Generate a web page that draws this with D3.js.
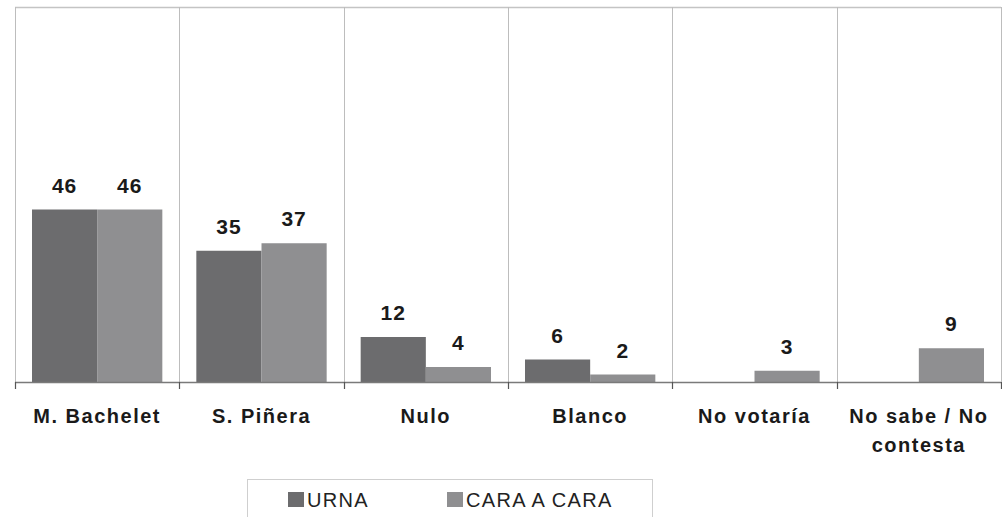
<!DOCTYPE html>
<html>
<head>
<meta charset="utf-8">
<script src="https://cdn.jsdelivr.net/npm/d3@7"></script>
<style>
  html, body { margin: 0; padding: 0; background: #fff; }
  svg { display: block; }
  text { font-family: "Liberation Sans", Arial, sans-serif; }
</style>
</head>
<body>
<svg id="chart" width="1002" height="517"></svg>
<script>
// Vote intention by method of survey
const categories = ["M. Bachelet", "S. Piñera", "Nulo", "Blanco", "No votaría", "No sabe / No contesta"];
const seriesNames = ["URNA", "CARA A CARA"];
const urna = [46, 35, 12, 6, null, null];
const caraACara = [46, 37, 4, 2, 3, 9];
const seriesColors = ["#6c6c6e", "#8f8f91"];

const seriesValues = [urna, caraACara];

const svg = d3.select("#chart");
const plot = { left: 15, right: 1001, top: 7, bottom: 382 };

const x = d3.scaleBand().domain(categories).range([plot.left, plot.right]).paddingInner(0).paddingOuter(0);
const xs = d3.scaleBand().domain(seriesNames).range([17, x.bandwidth() - 17]).padding(0);
const y = d3.scaleLinear().domain([0, 100]).range([plot.bottom, plot.top]);

// frame: top edge and category separators
const g = svg.append("g");
g.append("line").attr("x1", plot.left).attr("x2", plot.right)
  .attr("y1", y(100) + 0.5).attr("y2", y(100) + 0.5)
  .attr("stroke", "#c4c4c4").attr("stroke-width", 1.5);
const bounds = categories.map(c => x(c)).concat([plot.right]);
g.selectAll("line.sep").data(bounds).join("line")
  .attr("class", "sep")
  .attr("x1", d => Math.round(d) + 0.5).attr("x2", d => Math.round(d) + 0.5)
  .attr("y1", y(100)).attr("y2", y(0))
  .attr("stroke", "#bdbdbd").attr("stroke-width", 1);

// bars
const rows = [];
categories.forEach((c, i) => {
  seriesNames.forEach((s, j) => {
    const v = seriesValues[j][i];
    if (v != null) rows.push({ c, s, v, color: seriesColors[j] });
  });
});

g.selectAll("rect.bar").data(rows).join("rect")
  .attr("class", "bar")
  .attr("x", d => x(d.c) + xs(d.s))
  .attr("width", xs.bandwidth())
  .attr("y", d => y(d.v))
  .attr("height", d => y(0) - y(d.v))
  .attr("fill", d => d.color);

// value labels
g.selectAll("text.val").data(rows).join("text")
  .attr("class", "val")
  .attr("x", d => x(d.c) + xs(d.s) + xs.bandwidth() / 2)
  .attr("y", d => y(d.v) - 17)
  .attr("text-anchor", "middle")
  .attr("font-size", 21).attr("font-weight", "bold")
  .attr("letter-spacing", 1)
  .attr("fill", "#1a1a1a")
  .text(d => d.v);

// x axis: baseline with ticks at category boundaries
g.append("line").attr("x1", plot.left).attr("x2", plot.right)
  .attr("y1", y(0) + 0.5).attr("y2", y(0) + 0.5)
  .attr("stroke", "#7a7a7a").attr("stroke-width", 1.5);
g.selectAll("line.tick").data(bounds).join("line")
  .attr("class", "tick")
  .attr("x1", d => Math.round(d) + 0.5).attr("x2", d => Math.round(d) + 0.5)
  .attr("y1", y(0)).attr("y2", y(0) + 7)
  .attr("stroke", "#555").attr("stroke-width", 1.2);

// category labels, wrapped to the band width
const labels = g.selectAll("text.cat").data(categories).join("text")
  .attr("class", "cat")
  .attr("x", d => x(d) + x.bandwidth() / 2)
  .attr("y", 423)
  .attr("text-anchor", "middle")
  .attr("font-size", 20).attr("font-weight", "bold")
  .attr("letter-spacing", 1.5)
  .attr("fill", "#1a1a1a");

labels.each(function (d) {
  const t = d3.select(this);
  const words = d.split(" ");
  const cx = x(d) + x.bandwidth() / 2;
  let line = [];
  let tspan = t.append("tspan").attr("x", cx).attr("dy", 0);
  words.forEach(w => {
    line.push(w);
    tspan.text(line.join(" "));
    if (tspan.node().getComputedTextLength() > x.bandwidth() - 10 && line.length > 1) {
      line.pop();
      tspan.text(line.join(" "));
      line = [w];
      tspan = t.append("tspan").attr("x", cx).attr("dy", 29).text(w);
    }
  });
});

// legend
const legend = svg.append("g");
legend.append("rect").attr("x", 247.5).attr("y", 479.5).attr("width", 405).attr("height", 60)
  .attr("fill", "#fff").attr("stroke", "#cfcfcf").attr("stroke-width", 1);
const legendX = [288, 447];
seriesNames.forEach((s, i) => {
  legend.append("rect").attr("x", legendX[i]).attr("y", 492).attr("width", 16).attr("height", 15)
    .attr("fill", seriesColors[i]);
  legend.append("text").attr("x", legendX[i] + 19).attr("y", 506.5)
    .attr("font-size", 20).attr("letter-spacing", 1.3).attr("fill", "#222")
    .text(s);
});
</script>
</body>
</html>
